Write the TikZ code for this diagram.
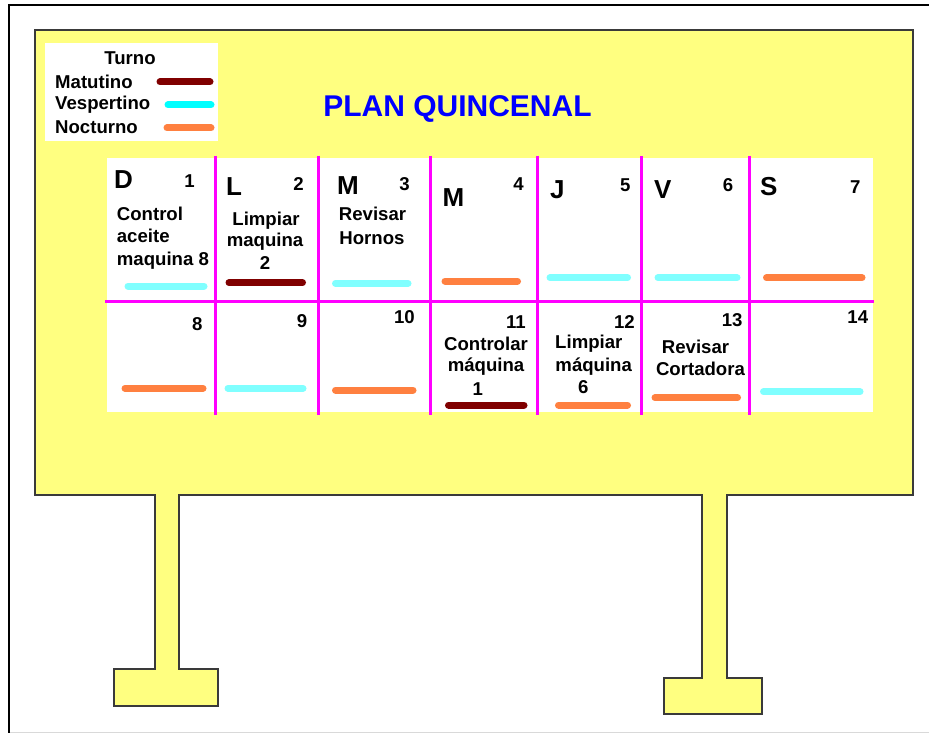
\documentclass[tikz,border=0pt]{standalone}
\usepackage{fontspec}
\setmainfont{Liberation Sans}
\definecolor{boardyellow}{HTML}{FFFF80}
\definecolor{outline}{HTML}{3A3A3A}
\definecolor{mag}{HTML}{FF00FF}
\definecolor{matc}{HTML}{800000}
\definecolor{vespc}{HTML}{80FFFF}
\definecolor{vespleg}{HTML}{00FFFF}
\definecolor{noctc}{HTML}{FF8040}
\definecolor{titleblue}{HTML}{0000FF}
\begin{document}
\begin{tikzpicture}[x=1pt,y=-1pt,
  txt/.style={inner sep=0pt,font=\fontsize{18.6}{22}\selectfont\bfseries,text=black},
  daylet/.style={inner sep=0pt,anchor=base west,font=\fontsize{26}{30}\selectfont\bfseries,text=black},
  daynum/.style={inner sep=0pt,anchor=base east,font=\fontsize{18.6}{22}\selectfont\bfseries,text=black},
  bar/.style={line width=7pt,line cap=round},
  grid/.style={draw=mag,line width=3pt}]
\useasboundingbox (0,0) rectangle (929,733);
% outer frame
\draw[line width=2.5pt,black] (929,5) -- (9,5) -- (9,733);
\draw[line width=1pt,black!15] (10,732) -- (929,732);
% board with legs
\draw[fill=boardyellow,draw=outline,line width=1.6pt]
  (35,30) -- (913,30) -- (913,495) -- (727,495) -- (727,678) -- (762,678) -- (762,714)
  -- (664,714) -- (664,678) -- (702,678) -- (702,495) -- (179,495) -- (179,669)
  -- (218,669) -- (218,706) -- (114,706) -- (114,669) -- (155,669) -- (155,495)
  -- (35,495) -- cycle;
% legend
\fill[white] (45,43) rectangle (218,141);
\node[txt,anchor=base] (turno) at (130,65) {Turno};
\node[txt,anchor=base west] (mat) at (55,88.3) {Matutino};
\node[txt,anchor=base west] (ves) at (55,110) {Vespertino};
\node[txt,anchor=base west] (noc) at (55,133.3) {Nocturno};
\draw[bar,matc] (160,82) -- (210,82);
\draw[bar,vespleg] (168,105) -- (211,105);
\draw[bar,noctc] (167,128) -- (211,128);
% title
\node[inner sep=0pt,anchor=base,text=titleblue,font=\fontsize{30}{35}\selectfont\bfseries] (title) at (457.5,116.7) {PLAN QUINCENAL};
% calendar area
\fill[white] (107,158) rectangle (873,412);
\draw[grid] (105,301) -- (874,301);
\foreach \x in {215,318,430,537,641,749} \draw[grid] (\x,156) -- (\x,415);
% row 1
\node[daylet] (d1) at (114,189) {D};
\node[daynum] (n1) at (195,187) {1};
\node[txt,anchor=base west] (c1a) at (116.7,220) {Control};
\node[txt,anchor=base west] (c1b) at (116.7,242.7) {aceite};
\node[txt,anchor=base west] (c1c) at (116.7,265) {maquina 8};
\draw[bar,vespc] (128,286) -- (204,286);

\node[daylet] (d2) at (226,195) {L};
\node[daynum] (n2) at (304,190) {2};
\node[txt,anchor=base] (c2a) at (266,225) {Limpiar};
\node[txt,anchor=base] (c2b) at (265,246.7) {maquina};
\node[txt,anchor=base] (c2c) at (265,269.3) {2};
\draw[bar,matc] (229,282.7) -- (302.5,282.7);

\node[daylet] (d3) at (337,194) {M};
\node[daynum] (n3) at (410,190.7) {3};
\node[txt,anchor=base] (c3a) at (372.5,220.7) {Revisar};
\node[txt,anchor=base] (c3b) at (372,244) {Hornos};
\draw[bar,vespc] (335.5,283.3) -- (408,283.3);

\node[daylet] (d4) at (442.5,206.7) {M};
\node[daynum] (n4) at (524,190) {4};
\draw[bar,noctc] (445,281) -- (517.5,281);

\node[daylet] (d5) at (550,198.3) {J};
\node[daynum] (n5) at (630.7,191.7) {5};
\draw[bar,vespc] (550,277.7) -- (627.5,277.7);

\node[daylet] (d6) at (654,198.3) {V};
\node[daynum] (n6) at (733.3,191.7) {6};
\draw[bar,vespc] (658,277.7) -- (737,277.7);

\node[daylet] (d7) at (760,195) {S};
\node[daynum] (n7) at (860.7,193.3) {7};
\draw[bar,noctc] (766.5,277.7) -- (862,277.7);
% row 2
\node[daynum] (n8) at (202.7,330.7) {8};
\draw[bar,noctc] (125,388.3) -- (203,388.3);

\node[daynum] (n9) at (307.3,327.3) {9};
\draw[bar,vespc] (228,388.3) -- (303,388.3);

\node[daynum] (n10) at (415,323.3) {10};
\draw[bar,noctc] (335.5,390) -- (413,390);

\node[daynum] (n11) at (526,328.3) {11};
\node[txt,anchor=base] (c11a) at (486,350) {Controlar};
\node[txt,anchor=base] (c11b) at (486,371.7) {máquina};
\node[txt,anchor=base] (c11c) at (477.7,395) {1};
\draw[bar,matc] (448.5,405) -- (524,405);

\node[daynum] (n12) at (635,328.3) {12};
\node[txt,anchor=base] (c12a) at (588.8,348.3) {Limpiar};
\node[txt,anchor=base] (c12b) at (593.7,371.7) {máquina};
\node[txt,anchor=base] (c12c) at (583.3,393.3) {6};
\draw[bar,noctc] (558.5,405) -- (627.5,405);

\node[daynum] (n13) at (742.7,326) {13};
\node[txt,anchor=base] (c13a) at (695.5,353.3) {Revisar};
\node[txt,anchor=base] (c13b) at (700.5,375) {Cortadora};
\draw[bar,noctc] (655,397.7) -- (737.5,397.7);

\node[daynum] (n14) at (868.3,323.3) {14};
\draw[bar,vespc] (763.5,391.7) -- (860,391.7);
\end{tikzpicture}
\end{document}
